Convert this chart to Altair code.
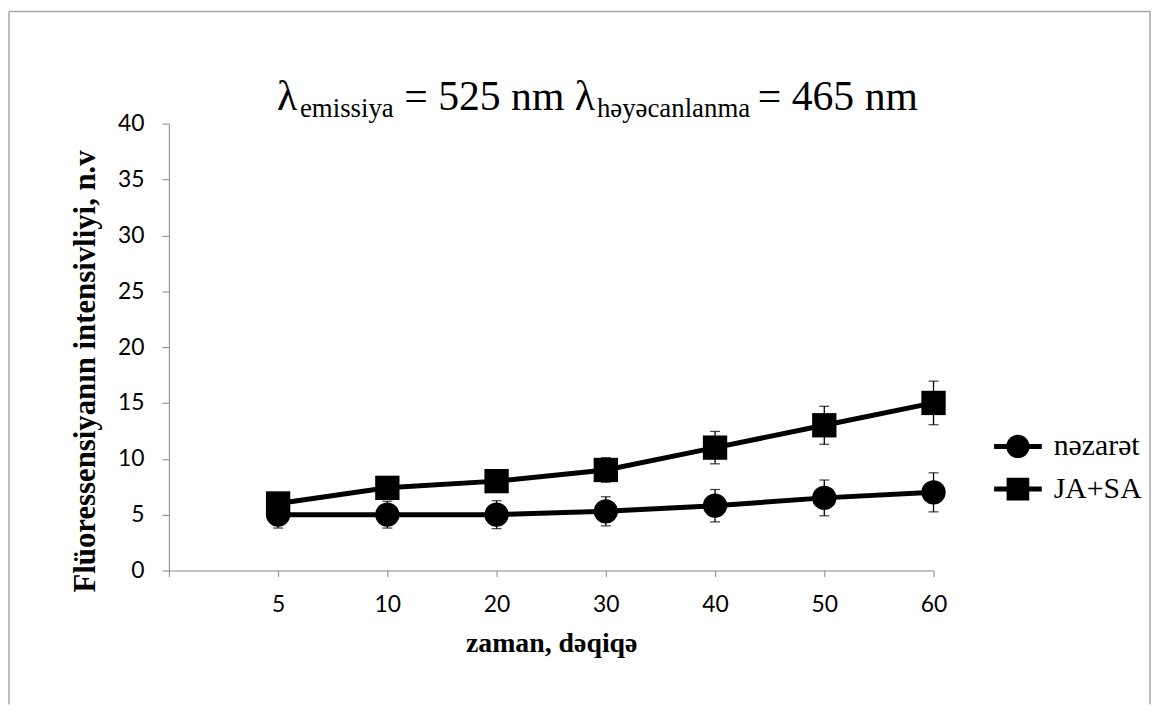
import altair as alt
import pandas as pd

# ---------------- data ----------------
times = ["5", "10", "20", "30", "40", "50", "60"]
series_names = ["nəzarət", "JA+SA"]
control_vals = [5.0, 5.0, 5.0, 5.3, 5.8, 6.5, 7.0]
control_err = [1.2, 1.2, 1.25, 1.3, 1.45, 1.6, 1.75]
treat_vals = [6.0, 7.4, 8.0, 9.0, 11.0, 13.0, 15.0]
treat_err = [0.6, 0.8, 0.9, 1.1, 1.45, 1.7, 1.95]
y_ticks = [0, 5, 10, 15, 20, 25, 30, 35, 40]
x_title = "zaman, dəqiqə"
y_title = "Flüoressensiyanın intensivliyi, n.v"
title_main = ["λ", "= 525 nm λ", "= 465 nm"]
title_sub = ["emissiya", "həyəcanlanma"]

rows = []
for name, vals, errs in [(series_names[0], control_vals, control_err),
                         (series_names[1], treat_vals, treat_err)]:
    for t, v, e in zip(times, vals, errs):
        rows.append({"time": t, "series": name, "value": v, "lo": v - e, "hi": v + e})
df = pd.DataFrame(rows)

# ---------------- scales / axes ----------------
W, H = 770, 450
x_domain = [""] + times
xsc = alt.Scale(type="point", domain=x_domain, padding=0)
xax = alt.Axis(title=x_title, labelAngle=0, labelFont="Lato", labelFontSize=23,
               labelColor="black", tickColor="#868686", domainColor="#868686",
               tickSize=6, labelPadding=17, grid=False,
               titleFont="Liberation Serif", titleFontWeight="bold", titleFontSize=28,
               titleColor="black", titleX=W / 2, titleY=74, titleBaseline="middle",
               titleAlign="center")
ysc = alt.Scale(domain=[0, 40], nice=False, zero=True)
yax = alt.Axis(title=y_title, values=y_ticks, labelFont="Lato", labelFontSize=23,
               labelColor="black", tickColor="#868686", domainColor="#868686",
               tickSize=7, labelPadding=18, grid=False,
               titleFont="Liberation Serif", titleFontWeight="bold", titleFontSize=31,
               titleColor="black", titleX=-84, titleY=249, titleAngle=-90,
               titleBaseline="middle", titleAlign="center")

X = alt.X("time:N", scale=xsc, axis=xax, sort=x_domain)
base = alt.Chart(df)

lines = base.mark_line(color="black", strokeWidth=5).encode(
    x=X, y=alt.Y("value:Q", scale=ysc, axis=yax), detail="series:N")
err_rules = base.mark_rule(color="black", strokeWidth=1.3).encode(
    x=X, y=alt.Y("lo:Q", scale=ysc, axis=yax), y2="hi:Q")
cap_lo = base.mark_tick(color="black", thickness=1.3, size=10, orient="horizontal").encode(
    x=X, y=alt.Y("lo:Q", scale=ysc, axis=yax))
cap_hi = base.mark_tick(color="black", thickness=1.3, size=10, orient="horizontal").encode(
    x=X, y=alt.Y("hi:Q", scale=ysc, axis=yax))
points = base.mark_point(filled=True, color="black", size=600, opacity=1).encode(
    x=X, y=alt.Y("value:Q", scale=ysc, axis=yax),
    shape=alt.Shape("series:N", scale=alt.Scale(domain=series_names, range=["circle", "square"]),
                    legend=None))

# legend symbols: line with marker (custom paths, unit = 12px)
line_path = "M-2,-0.21 L2,-0.21 L2,0.21 L-2,0.21 Z"
circ_path = line_path + " M-0.98,0 A0.98,0.98 0 1,1 0.98,0 A0.98,0.98 0 1,1 -0.98,0 Z"
sq_path = line_path + " M-0.95,-0.95 L0.95,-0.95 L0.95,0.95 L-0.95,0.95 Z"
legend_layer = base.mark_point(filled=True, color="black", opacity=0, size=0).encode(
    x=X, y=alt.Y("value:Q", scale=ysc, axis=yax),
    shape=alt.Shape("series:N", scale=alt.Scale(domain=series_names, range=[circ_path, sq_path]),
                    legend=alt.Legend(title=None, orient="none", legendX=840, legendY=310,
                                      labelFont="Liberation Serif", labelFontSize=30,
                                      labelColor="black", symbolSize=576, symbolOpacity=1,
                                      symbolFillColor="black", symbolStrokeWidth=0,
                                      labelOffset=21, rowPadding=13, padding=0)))

# title pieces (with subscripts)
def txt(s, xpos, ypos, size):
    return alt.Chart(alt.Data(values=[{"t": s}])).mark_text(
        align="left", baseline="alphabetic", font="Liberation Serif", fontSize=size,
        color="black").encode(text="t:N", x=alt.value(xpos), y=alt.value(ypos))

title_layers = [
    txt(title_main[0], 109, -14, 42),
    txt(title_sub[0], 132, -7, 27),
    txt(title_main[1], 237, -14, 42),
    txt(title_sub[1], 431, -7, 27),
    txt(title_main[2], 593, -14, 42),
]

# outer frame (grey)
frame_src = alt.Data(values=[{"k": 0}])
frame_top = alt.Chart(frame_src).mark_rule(color="#a6a6a6", strokeWidth=1.5).encode(
    x=alt.value(-161), x2=alt.value(988), y=alt.value(-113), y2=alt.value(-113))
frame_left = alt.Chart(frame_src).mark_rule(color="#a6a6a6", strokeWidth=1.5).encode(
    x=alt.value(-161), x2=alt.value(-161), y=alt.value(-113), y2=alt.value(585))
frame_right = alt.Chart(frame_src).mark_rule(color="#a6a6a6", strokeWidth=1.5).encode(
    x=alt.value(988), x2=alt.value(988), y=alt.value(-113), y2=alt.value(585))

chart = alt.layer(
    frame_top, frame_left, frame_right,
    lines, err_rules, cap_lo, cap_hi, points, legend_layer,
    *title_layers
).resolve_scale(shape="independent").properties(
    width=W, height=H, padding=0, background="white"
).configure_view(stroke=None)

chart.save("out.html", embed_options={"renderer": "svg", "actions": False})
